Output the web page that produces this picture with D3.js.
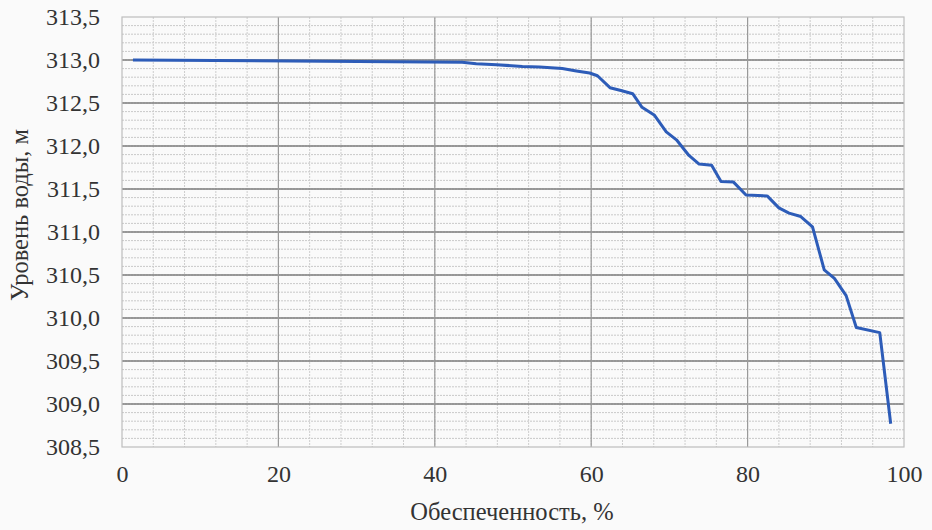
<!DOCTYPE html>
<html>
<head>
<meta charset="utf-8">
<script src="https://cdn.jsdelivr.net/npm/d3@7"></script>
<style>
  body {margin: 0; background: #fafafa;}
  text {font-family: "Liberation Serif", "DejaVu Serif", serif; fill: #333;}
</style>
</head>
<body>
<svg id="chart" width="932" height="530"></svg>
<script>
// probability of exceedance, %
var pct = [1.4, 43.5, 45.3, 47.9, 51.2, 53.4, 56.3, 58.1, 59.8, 60.8, 62.4, 63.8, 65.3, 66.5,
  68.1, 69.6, 70.9, 72.5, 73.8, 75.4, 76.6, 78.2, 79.8, 82.5, 84.0, 85.3, 86.8, 88.3,
  89.8, 91.1, 92.6, 93.9, 96.9, 98.3];
// water level, m
var level = [313.00, 312.975, 312.957, 312.945, 312.925, 312.918, 312.90, 312.872, 312.849,
  312.817, 312.678, 312.646, 312.608, 312.45, 312.357, 312.165, 312.072, 311.89, 311.79,
  311.775, 311.587, 311.58, 311.43, 311.42, 311.28, 311.22, 311.18, 311.06, 310.56,
  310.46, 310.26, 309.89, 309.83, 308.77];

var xTicks = [0, 20, 40, 60, 80, 100];
var yTicks = [308.5, 309, 309.5, 310, 310.5, 311, 311.5, 312, 312.5, 313, 313.5];

var pLeft = 122, pRight = 904, pTop = 17, pBottom = 447;

var x = d3.scaleLinear().domain([0, 100]).range([pLeft, pRight]);
var y = d3.scaleLinear().domain([308.5, 313.5]).range([pBottom, pTop]);

var svg = d3.select("#chart");
var fmt = function(d) { return d3.format(".1f")(d).replace(".", ","); };

// minor grid
var g = svg.append("g");
g.selectAll(".hm").data(d3.range(3086, 3135).map(function(d) { return d / 10; }))
  .enter().append("line")
  .attr("x1", pLeft).attr("x2", pRight)
  .attr("y1", function(d) { return y(d); }).attr("y2", function(d) { return y(d); })
  .attr("stroke", "#c9c9c9").attr("stroke-width", 1).attr("stroke-dasharray", "2,1");
g.selectAll(".vm").data(d3.range(4, 100, 4))
  .enter().append("line")
  .attr("x1", function(d) { return x(d); }).attr("x2", function(d) { return x(d); })
  .attr("y1", pTop).attr("y2", pBottom)
  .attr("stroke", "#cdcdcd").attr("stroke-width", 1).attr("stroke-dasharray", "2,1");

// major grid
g.selectAll(".hM").data(yTicks.slice(1, -1))
  .enter().append("line")
  .attr("x1", pLeft).attr("x2", pRight)
  .attr("y1", function(d) { return y(d); }).attr("y2", function(d) { return y(d); })
  .attr("stroke", "#7d7d7d").attr("stroke-width", 1.4);
g.selectAll(".vM").data(xTicks.slice(1, -1))
  .enter().append("line")
  .attr("x1", function(d) { return x(d); }).attr("x2", function(d) { return x(d); })
  .attr("y1", pTop).attr("y2", pBottom)
  .attr("stroke", "#9a9a9a").attr("stroke-width", 1.2);

// frame
svg.append("rect")
  .attr("x", pLeft).attr("y", pTop).attr("width", pRight - pLeft).attr("height", pBottom - pTop)
  .attr("fill", "none").attr("stroke", "#bdbdbd").attr("stroke-width", 1.2);

// axes labels
var yAxis = d3.axisLeft(y).tickValues(yTicks).tickFormat(fmt).tickSize(0).tickPadding(22);
svg.append("g").attr("transform", "translate(" + pLeft + ",0)").call(yAxis)
  .call(function(s) { s.select(".domain").remove(); })
  .selectAll("text").style("font-size", "24px").style("font-family", "Liberation Serif").attr("fill", "#333");

var xAxis = d3.axisBottom(x).tickValues(xTicks).tickFormat(d3.format("d")).tickSize(0).tickPadding(18);
svg.append("g").attr("transform", "translate(0," + pBottom + ")").call(xAxis)
  .call(function(s) { s.select(".domain").remove(); })
  .selectAll("text").style("font-size", "24px").style("font-family", "Liberation Serif").attr("fill", "#333");

svg.append("text")
  .attr("x", 512).attr("y", 520)
  .attr("text-anchor", "middle")
  .style("font-size", "24.5px")
  .text("Обеспеченность, %");

svg.append("text")
  .attr("transform", "translate(28,215) rotate(-90)")
  .attr("text-anchor", "middle")
  .style("font-size", "24.5px")
  .text("Уровень воды, м");

// curve
var line = d3.line()
  .x(function(d, i) { return x(pct[i]); })
  .y(function(d) { return y(d); });
svg.append("path")
  .datum(level)
  .attr("d", line)
  .attr("fill", "none")
  .attr("stroke", "#2d5cb8")
  .attr("stroke-width", 3)
  .attr("stroke-linejoin", "round");
</script>
</body>
</html>
